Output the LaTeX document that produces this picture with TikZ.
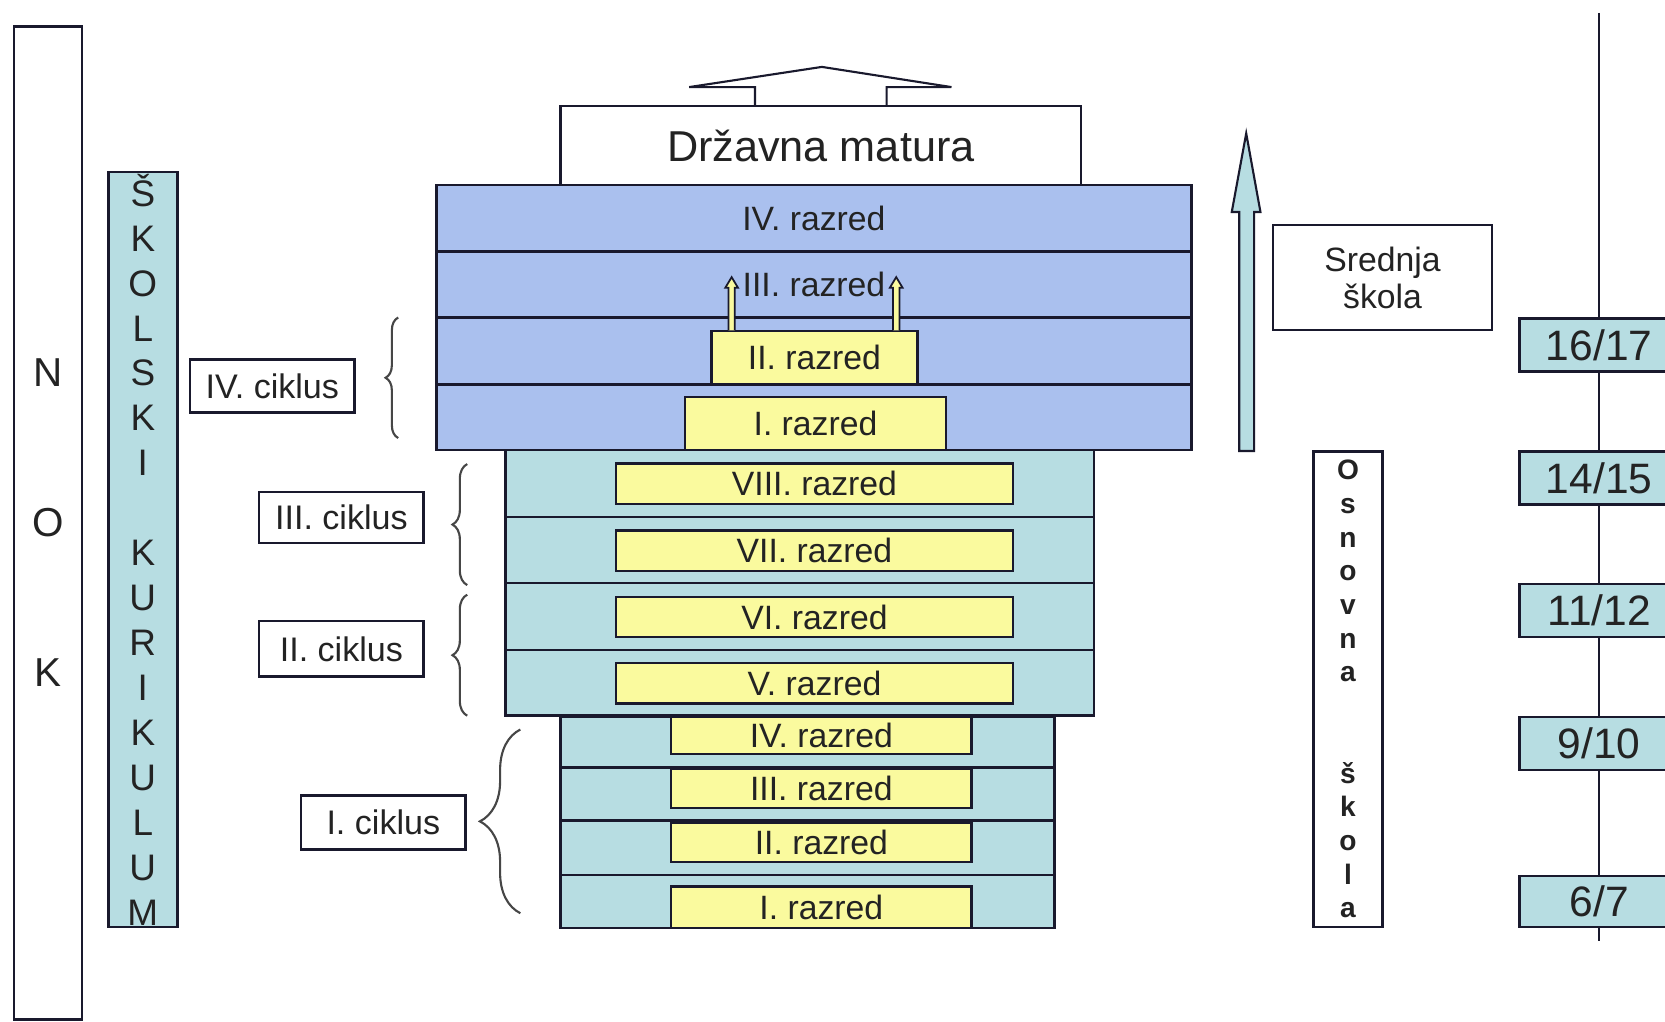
\documentclass[tikz,border=0pt]{standalone}
\usepackage{fontspec}
\setmainfont{Liberation Sans}
\usepackage{tikz}
\usetikzlibrary{decorations.pathreplacing}
\usepackage{xcolor}

\definecolor{blockblue}{RGB}{170,192,238}
\definecolor{blockteal}{RGB}{183,221,226}
\definecolor{gradeyellow}{RGB}{250,250,158}
\definecolor{edge}{RGB}{25,25,45}
\definecolor{ink}{RGB}{35,35,35}

\newcommand{\px}{0.10619mm}

\begin{document}
\begin{tikzpicture}[x=\px, y=-\px,
    layer/.style={rectangle, draw=edge, line width=0.7pt, inner sep=0pt, text=ink,
                  font=\fontsize{9.6}{11}\selectfont},
    srlayer/.style={layer, fill=blockblue},
    oslayer/.style={layer, fill=blockteal},
    grade/.style={layer, fill=gradeyellow},
    labelbox/.style={rectangle, draw=edge, line width=0.7pt, inner sep=0pt, fill=white, text=ink},
    ciklus/.style={labelbox, minimum width=155*\px, minimum height=50*\px,
                   font=\fontsize{9.7}{11}\selectfont},
    age/.style={labelbox, fill=blockteal, minimum width=150*\px, minimum height=50*\px,
                font=\fontsize{12.1}{14}\selectfont},
    curly/.style={decorate, decoration={brace, amplitude=#1}, draw=gray!55!black, line width=0.6pt},
    blockarrow/.style={draw=edge, line width=0.6pt, line join=miter},
    timeline/.style={draw=edge, line width=0.7pt}
]

\clip (0,0) rectangle (1568,962);
\fill[white] (0,0) rectangle (1568,962);

% Left frames
\node[labelbox, minimum width=64*\px, minimum height=935*\px, align=center,
      font=\fontsize{11.5}{42.7}\selectfont] (nok) at (45,492.5) {N\\O\\K};
\node[labelbox, fill=blockteal, minimum width=65*\px, minimum height=711*\px, align=center,
      font=\fontsize{10.5}{12.78}\selectfont] (kur) at (134.5,517.5)
      {Š\\K\\O\\L\\S\\K\\I\\[12.78pt]K\\U\\R\\I\\K\\U\\L\\U\\M};

% Secondary school block
\node[srlayer, minimum width=711*\px, minimum height=63*\px] (s4) at (766.5,205.5) {IV. razred};
\node[srlayer, minimum width=711*\px, minimum height=62*\px] (s3) at (766.5,268) {III. razred};
\node[srlayer, minimum width=711*\px, minimum height=63*\px] (s2) at (766.5,330.5) {};
\node[srlayer, minimum width=711*\px, minimum height=62*\px] (s1) at (766.5,393) {};
\node[grade, minimum width=194*\px, minimum height=50*\px] (gs2) at (767,336.5) {II. razred};
\node[grade, minimum width=246*\px, minimum height=50*\px] (gs1) at (768,399) {I. razred};

% small arrows from II. razred
\draw[blockarrow, fill=gradeyellow, line width=0.5pt]
    (686,311) -- (686,271) -- (683,271) -- (689,261) -- (695,271) -- (692,271) -- (692,311);
\draw[blockarrow, fill=gradeyellow, line width=0.5pt]
    (841,311) -- (841,271) -- (838,271) -- (844,261) -- (850,271) -- (847,271) -- (847,311);

% Primary school, grades V-VIII
\node[oslayer, minimum width=554*\px, minimum height=63*\px] (o8) at (753,455.5) {};
\node[oslayer, minimum width=554*\px, minimum height=62*\px] (o7) at (753,518) {};
\node[oslayer, minimum width=554*\px, minimum height=63*\px] (o6) at (753,580.5) {};
\node[oslayer, minimum width=554*\px, minimum height=62*\px] (o5) at (753,643) {};
\node[grade, minimum width=374*\px, minimum height=38*\px] (g8) at (767,455.5) {VIII. razred};
\node[grade, minimum width=374*\px, minimum height=38*\px] (g7) at (767,518.5) {VII. razred};
\node[grade, minimum width=374*\px, minimum height=38*\px] (g6) at (767,581) {VI. razred};
\node[grade, minimum width=374*\px, minimum height=38*\px] (g5) at (767,643.5) {V. razred};

% Primary school, grades I-IV
\node[oslayer, minimum width=465*\px, minimum height=48*\px] (o4) at (760.5,698.8) {};
\node[oslayer, minimum width=465*\px, minimum height=50*\px] (o3) at (760.5,747.7) {};
\node[oslayer, minimum width=465*\px, minimum height=51*\px] (o2) at (760.5,798.4) {};
\node[oslayer, minimum width=465*\px, minimum height=50*\px] (o1) at (760.5,849) {};
\node[grade, minimum width=283*\px, minimum height=35*\px] (g4) at (773.5,692.8) {IV. razred};
\node[grade, minimum width=283*\px, minimum height=37*\px] (g3) at (773.5,742.5) {III. razred};
\node[grade, minimum width=283*\px, minimum height=37*\px] (g2) at (773.5,793.4) {II. razred};
\node[grade, minimum width=283*\px, minimum height=39*\px] (g1) at (773.5,854.5) {I. razred};

% Matura on top
\draw[blockarrow, fill=white]
    (711,100) -- (711,82) -- (649,82) -- (774,63) -- (896,82) -- (835,82) -- (835,100);
\node[labelbox, minimum width=490*\px, minimum height=74*\px,
      font=\fontsize{12.3}{14}\selectfont] (dm) at (773,137) {Državna matura};

% Cycles
\node[ciklus] (c4) at (256.5,363.5) {IV. ciklus};
\node[ciklus, minimum height=48*\px] (c3) at (321.5,487.5) {III. ciklus};
\node[ciklus, minimum height=52*\px] (c2) at (321.5,611) {II. ciklus};
\node[ciklus, minimum height=51*\px] (c1) at (361,774.5) {I. ciklus};

\draw[curly=3.6pt] (375,412.5) -- (375,299);
\draw[curly=4.2pt] (440,551) -- (440,437);
\draw[curly=4.2pt] (440,674) -- (440,560);
\draw[curly=11.5pt] (490,860) -- (490,687);

% School types
\draw[blockarrow, fill=blockteal]
    (1167,424.7) -- (1167,199.6) -- (1160,199.6) -- (1173.6,125.6)
    -- (1187,199.6) -- (1181,199.6) -- (1181,424.7) -- cycle;
\node[labelbox, minimum width=206*\px, minimum height=99*\px, align=center,
      font=\fontsize{9.6}{10.4}\selectfont] (ss) at (1302,261.5) {Srednja\\škola};
\node[labelbox, minimum width=65*\px, minimum height=448*\px, align=center,
      font=\bfseries\fontsize{8}{9.59}\selectfont] (os) at (1269.5,649)
      {O\\s\\n\\o\\v\\n\\a\\[19.18pt]š\\k\\o\\l\\a};

% Age line
\coordinate (ttop) at (1506,12);
\coordinate (tbot) at (1506,886);
\node[age] (a17) at (1506,325) {16/17};
\node[age] (a15) at (1506,450) {14/15};
\node[age] (a12) at (1506,575) {11/12};
\node[age] (a10) at (1506,700) {9/10};
\node[age, minimum height=48*\px] (a7) at (1506,849) {6/7};
\draw[timeline] (ttop) -- (a17) -- (a15) -- (a12) -- (a10) -- (a7) -- (tbot);

\end{tikzpicture}
\end{document}
